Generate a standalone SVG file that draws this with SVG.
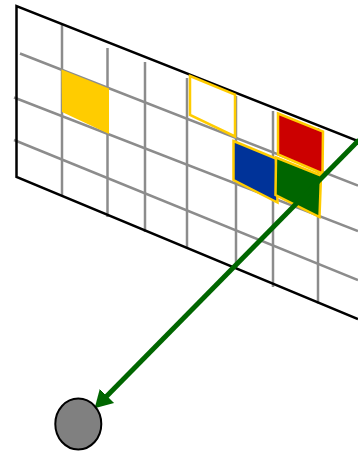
<svg xmlns="http://www.w3.org/2000/svg" width="358" height="451" viewBox="0 0 358 451">
  <style>
    .grid { stroke: #8c8c8c; stroke-width: 2.5; fill: none; }
    .frame { stroke: #000000; stroke-width: 2.5; fill: none; stroke-linejoin: miter; }
    .cell { stroke: #FFCC00; stroke-width: 2.5; stroke-linejoin: miter; }
    .conn { stroke: #006600; stroke-width: 5; fill: none; }
  </style>
  <defs>
    <marker id="arrow" markerUnits="userSpaceOnUse" markerWidth="20" markerHeight="22" viewBox="0 0 20 22" refX="5" refY="11" orient="auto">
      <path d="M0,1 L17.5,11 L0,21 z" fill="#006600"/>
    </marker>
  </defs>
  <rect width="358" height="451" fill="#ffffff"/>
  <g id="plane">
    <g id="grid-lines">
      <line class="grid" x1="20" y1="53.5" x2="358" y2="185.5"/>
      <line class="grid" x1="14" y1="97.5" x2="358" y2="231"/>
      <line class="grid" x1="14" y1="140" x2="358" y2="280"/>
      <line class="grid" x1="62" y1="24" x2="62" y2="196"/>
      <line class="grid" x1="107.5" y1="48" x2="107.5" y2="217"/>
      <line class="grid" x1="145" y1="62" x2="145" y2="232"/>
      <line class="grid" x1="187" y1="78" x2="187" y2="248.5"/>
      <line class="grid" x1="236" y1="96" x2="236" y2="269"/>
      <line class="grid" x1="273" y1="111" x2="273" y2="287"/>
      <line class="grid" x1="318" y1="128" x2="318" y2="303.5"/>
    </g>
    <path class="frame" d="M358,141 L16.5,6 L16.5,177 L358,319"/>
  </g>
  <g id="cell-yellow">
    <polygon points="61.5,69.5 109,88.5 109,134 62,112" fill="#FFCC00"/>
  </g>
  <g id="cell-white">
    <polygon class="cell" points="190,76 235,94.5 235,136.5 190,115" fill="#ffffff"/>
  </g>
  <g id="cell-red">
    <polygon class="cell" points="278,113.5 323,131.5 322.5,173.5 278,154.5" fill="#CC0000"/>
  </g>
  <g id="cell-blue">
    <polygon class="cell" points="233.5,141 276,158.5 277.5,202.5 233.5,180" fill="#003399"/>
  </g>
  <g id="cell-green">
    <polygon class="cell" points="276,157.5 321,175.5 319.5,217 275.5,195" fill="#006600"/>
  </g>
  <g id="connectors">
    <line class="conn" x1="359" y1="140" x2="103.42" y2="399.45" marker-end="url(#arrow)"/>
  </g>
  <g id="source">
    <ellipse cx="78.3" cy="424" rx="23" ry="25.5" fill="#808080" stroke="#000000" stroke-width="2"/>
  </g>
</svg>
